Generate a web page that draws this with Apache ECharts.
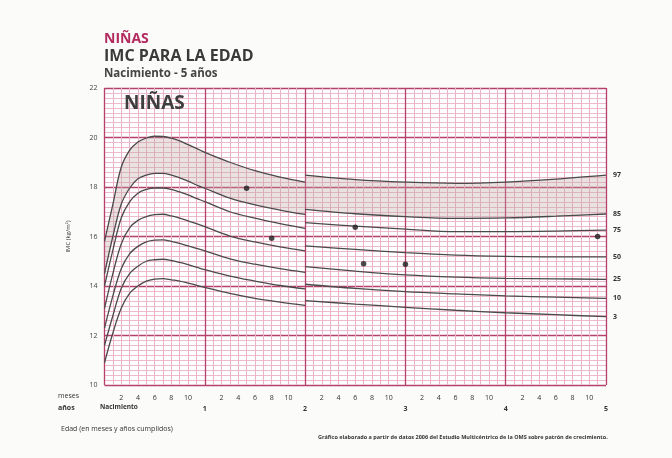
<!DOCTYPE html>
<html>
<head>
<meta charset="utf-8">
<script src="https://cdn.jsdelivr.net/npm/echarts@6/dist/echarts.min.js"></script>
<style>
  html, body { margin: 0; padding: 0; background: #fbfbfa; }
  #chart { width: 672px; height: 458px; }
</style>
</head>
<body>
<div id="chart"></div>
<script>
// Percentile curves, birth to 2 years (age in months, BMI in kg/m2)
const months0to2 = [0, 1, 2, 3, 4, 5, 6, 7, 8, 9, 10, 11, 12, 15, 18, 21, 24];
const p3_0to2  = [10.9, 12.1, 13.1, 13.7, 14.0, 14.2, 14.28, 14.3, 14.25, 14.2, 14.12, 14.03, 13.94, 13.7, 13.5, 13.35, 13.22];
const p10_0to2 = [11.6, 12.8, 13.9, 14.5, 14.8, 15.0, 15.06, 15.08, 15.03, 14.95, 14.86, 14.76, 14.66, 14.4, 14.2, 14.02, 13.88];
const p25_0to2 = [12.3, 13.6, 14.7, 15.3, 15.6, 15.78, 15.85, 15.86, 15.8, 15.72, 15.62, 15.52, 15.42, 15.1, 14.88, 14.7, 14.55];
const p50_0to2 = [13.1, 14.5, 15.7, 16.35, 16.65, 16.8, 16.88, 16.9, 16.83, 16.74, 16.63, 16.52, 16.4, 16.02, 15.78, 15.58, 15.42];
const p75_0to2 = [14.0, 15.45, 16.75, 17.4, 17.75, 17.9, 17.96, 17.96, 17.9, 17.8, 17.68, 17.54, 17.41, 17.0, 16.74, 16.52, 16.33];
const p85_0to2 = [14.5, 16.0, 17.3, 17.95, 18.33, 18.48, 18.55, 18.55, 18.48, 18.37, 18.24, 18.08, 17.95, 17.55, 17.28, 17.07, 16.89];
const p97_0to2 = [15.8, 17.3, 18.8, 19.48, 19.82, 19.98, 20.05, 20.04, 19.97, 19.86, 19.71, 19.56, 19.4, 19.0, 18.66, 18.4, 18.2];

// Percentile curves, 2 to 5 years
const months2to5 = [24, 30, 36, 42, 48, 54, 60];
const p3_2to5  = [13.41, 13.27, 13.14, 13.02, 12.92, 12.84, 12.76];
const p10_2to5 = [14.07, 13.9, 13.77, 13.68, 13.6, 13.55, 13.5];
const p25_2to5 = [14.78, 14.6, 14.45, 14.36, 14.31, 14.29, 14.27];
const p50_2to5 = [15.62, 15.48, 15.35, 15.25, 15.2, 15.18, 15.18];
const p75_2to5 = [16.56, 16.42, 16.3, 16.2, 16.2, 16.22, 16.26];
const p85_2to5 = [17.1, 16.92, 16.8, 16.73, 16.75, 16.82, 16.91];
const p97_2to5 = [18.48, 18.3, 18.2, 18.15, 18.2, 18.32, 18.48];

const percentileNames = ['3', '10', '25', '50', '75', '85', '97'];

// Plotted measurements
const dotMonths = [17, 20, 30, 31, 36, 59];
const dotBmi    = [17.95, 15.93, 16.37, 14.9, 14.88, 16.0];

// Axis tick labels
const monthTickLabels = ['2', '4', '6', '8', '10'];
const yearTickLabels = ['Nacimiento', '1', '2', '3', '4', '5'];
const bmiTicks = [10, 12, 14, 16, 18, 20, 22];

const curves0to2 = [p3_0to2, p10_0to2, p25_0to2, p50_0to2, p75_0to2, p85_0to2, p97_0to2];
const curves2to5 = [p3_2to5, p10_2to5, p25_2to5, p50_2to5, p75_2to5, p85_2to5, p97_2to5];

const FONT = '"Open Sans", "Noto Sans", sans-serif';
const SMOOTH = 0.35;
const pair = (xs, ys) => xs.map((x, i) => [x, ys[i]]);

function curve(name, xs, ys, label) {
  const s = {
    type: 'line', name: name, data: pair(xs, ys),
    smooth: SMOOTH, symbol: 'none', silent: true, z: 4,
    lineStyle: { color: '#4a4a4a', width: 1.3 }
  };
  if (label) {
    s.endLabel = {
      show: true, formatter: name, distance: 7,
      color: '#333', fontSize: 7, fontWeight: 'bold', fontFamily: FONT
    };
  }
  return s;
}

// Shaded band between the 85th and 97th percentiles.
// BMI is stored as the first dimension so that stacking happens on the y value.
function band(stack, xs, lower, upper) {
  const common = {
    type: 'line', stack: stack, smooth: SMOOTH, symbol: 'none', silent: true, z: 2,
    dimensions: ['bmi', 'month'], encode: { x: 'month', y: 'bmi' },
    lineStyle: { opacity: 0 }
  };
  return [
    Object.assign({}, common, { data: xs.map((x, i) => [lower[i], x]) }),
    Object.assign({}, common, {
      data: xs.map((x, i) => [+(upper[i] - lower[i]).toFixed(3), x]),
      areaStyle: { color: 'rgba(190, 165, 165, 0.32)', opacity: 1 }
    })
  ];
}

const series = [];
series.push(...band('b02', months0to2, p85_0to2, p97_0to2));
series.push(...band('b25', months2to5, p85_2to5, p97_2to5));
percentileNames.forEach((n, k) => {
  series.push(curve(n, months0to2, curves0to2[k], false));
  series.push(curve(n, months2to5, curves2to5[k], true));
});
series.push({
  type: 'scatter', data: pair(dotMonths, dotBmi), symbolSize: 5.5, z: 6,
  itemStyle: { color: '#1e1e1e' }
});

const chart = echarts.init(document.getElementById('chart'), null, { renderer: 'canvas' });

chart.setOption({
  animation: false,
  backgroundColor: '#fbfbfa',
  grid: { left: 104.5, right: 66, top: 88, bottom: 73, backgroundColor: '#fffefe', show: true, borderWidth: 0 },
  xAxis: [
    { // grid lines: years (major) and months (minor)
      type: 'value', min: 0, max: 60, interval: 12, position: 'bottom',
      axisLine: { show: false }, axisTick: { show: false }, axisLabel: { show: false },
      splitLine: { show: true, lineStyle: { color: '#b5406b', width: 1.3 } },
      minorTick: { show: false, splitNumber: 12 },
      minorSplitLine: { show: true, lineStyle: { color: '#e9b2c7', width: 1 } }
    },
    { // month labels
      type: 'value', min: 0, max: 60, interval: 2, position: 'bottom',
      axisLine: { show: false }, axisTick: { show: false }, splitLine: { show: false },
      axisLabel: {
        margin: 9, fontSize: 7, color: '#333', fontFamily: FONT,
        formatter: v => { const m = v % 12; return m === 0 ? '' : monthTickLabels[m / 2 - 1]; }
      }
    },
    { // year labels
      type: 'value', min: 0, max: 60, interval: 12, position: 'bottom',
      axisLine: { show: false }, axisTick: { show: false }, splitLine: { show: false },
      axisLabel: {
        margin: 20, fontSize: 7, color: '#333', fontWeight: 'bold', fontFamily: FONT,
        formatter: v => v === 0 ? '' : yearTickLabels[v / 12]
      }
    }
  ],
  yAxis: {
    type: 'value', min: bmiTicks[0], max: bmiTicks[bmiTicks.length - 1], interval: 2,
    name: 'IMC (kg/m²)', nameLocation: 'middle', nameGap: 33, nameRotate: 90,
    nameTextStyle: { fontSize: 6, color: '#333', fontFamily: FONT },
    axisLine: { show: false }, axisTick: { show: false },
    axisLabel: { margin: 7, fontSize: 7, color: '#444', fontFamily: FONT },
    splitLine: { show: true, lineStyle: { color: '#b5406b', width: 1.3 } },
    minorTick: { show: false, splitNumber: 10 },
    minorSplitLine: { show: true, lineStyle: { color: '#ecbacd', width: 1 } }
  },
  graphic: [
    { type: 'text', left: 104, top: 32, style: { text: 'NIÑAS', fill: '#b22a5e', font: 'bold 14px ' + FONT } },
    { type: 'text', left: 104, top: 48, style: { text: 'IMC PARA LA EDAD', fill: '#3a3a3a', font: 'bold 16px ' + FONT } },
    { type: 'text', left: 104, top: 68, style: { text: 'Nacimiento - 5 años', fill: '#444', font: 'bold 11.5px ' + FONT } },
    { type: 'text', left: 124, top: 94, z: 10, style: { text: 'NIÑAS', fill: '#3e3e3e', font: 'bold 19px ' + FONT } },
    { type: 'text', left: 58, top: 392, style: { text: 'meses', fill: '#333', font: '7px ' + FONT } },
    { type: 'text', left: 58, top: 404, style: { text: 'años', fill: '#333', font: 'bold 7px ' + FONT } },
    { type: 'text', left: 100, top: 404, style: { text: yearTickLabels[0], fill: '#333', font: 'bold 6.5px ' + FONT } },
    { type: 'text', left: 61, top: 425, style: { text: 'Edad (en meses y años cumplidos)', fill: '#333', font: '7px ' + FONT } },
    { type: 'text', left: 318, top: 434, style: { text: 'Gráfico elaborado a partir de datos 2006 del Estudio Multicéntrico de la OMS sobre patrón de crecimiento.', fill: '#333', font: 'bold 5.5px ' + FONT } }
  ],
  series: series
});
</script>
</body>
</html>
